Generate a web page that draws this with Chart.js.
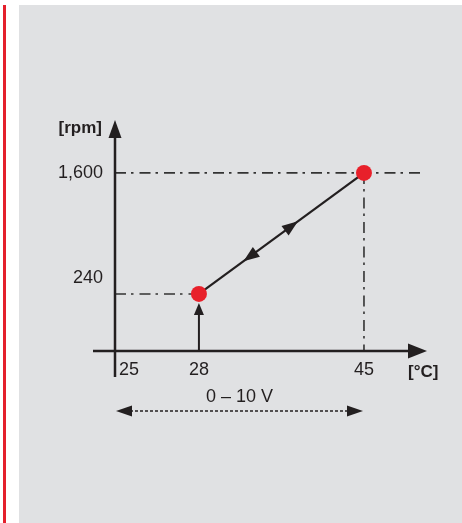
<!DOCTYPE html>
<html>
<head>
<meta charset="utf-8">
<script src="https://cdn.jsdelivr.net/npm/chart.js@4/dist/chart.umd.min.js"></script>
<style>
  body { margin: 0; background: #fff; }
  #wrap { position: relative; width: 462px; height: 523px; overflow: hidden; }
  #bar { position: absolute; left: 3px; top: 5px; width: 3px; bottom: 0; background: #e4202c; }
  #panel { position: absolute; left: 19px; top: 5px; right: 0; bottom: 0; background: #e0e1e3; }
  canvas { position: absolute; left: 0; top: 0; }
</style>
</head>
<body>
<div id="wrap">
  <div id="bar"></div>
  <div id="panel"></div>
  <canvas id="chart" width="462" height="523"></canvas>
</div>
<script>
// data
const tempTicks = [25, 28, 45];          // °C
const rpmTicks = [240, 1600];            // rpm
const curveTemp = [28, 45];
const curveRpm = [240, 1600];
const voltageLabel = '0 – 10 V';
const voltageRange = [25, 45];           // °C span of the 0-10 V signal

const ink = '#231f20';
const dashInk = '#333333';
const font = '"Liberation Sans", Arial, Helvetica, sans-serif';

// the drawing is schematic, so axes are piecewise linear between marked values
function toDecimal(breaks, v) {
  for (let i = 1; i < breaks.length; i++) {
    const [v0, d0] = breaks[i - 1], [v1, d1] = breaks[i];
    if (v <= v1 || i === breaks.length - 1) return d0 + (v - v0) / (v1 - v0) * (d1 - d0);
  }
  return 0;
}
function fromDecimal(breaks, d) {
  for (let i = 1; i < breaks.length; i++) {
    const [v0, d0] = breaks[i - 1], [v1, d1] = breaks[i];
    if (d <= d1 || i === breaks.length - 1) return v0 + (d - d0) / (d1 - d0) * (v1 - v0);
  }
  return 0;
}
class SchematicScale extends Chart.LinearScale {
  getPixelForValue(value) {
    return this.getPixelForDecimal(toDecimal(this.options.breaks, value));
  }
  getValueForPixel(pixel) {
    return fromDecimal(this.options.breaks, this.getDecimalForPixel(pixel));
  }
}
SchematicScale.id = 'schematic';
SchematicScale.defaults = Chart.LinearScale.defaults;
Chart.register(SchematicScale);

function arrowHead(ctx, x, y, angle, len, wid) {
  ctx.save();
  ctx.translate(x, y);
  ctx.rotate(angle);
  ctx.beginPath();
  ctx.moveTo(0, 0);
  ctx.lineTo(-len, -wid / 2);
  ctx.lineTo(-len, wid / 2);
  ctx.closePath();
  ctx.fill();
  ctx.restore();
}

const diagram = {
  id: 'diagram',
  beforeDatasetsDraw(chart) {
    const { ctx, scales: { x, y } } = chart;
    const x0 = x.getPixelForValue(tempTicks[0]);
    const y0 = y.getPixelForValue(0);
    ctx.save();
    ctx.strokeStyle = dashInk;
    ctx.lineWidth = 1.6;
    ctx.setLineDash([11, 5, 2.5, 6]);
    // guides to the two operating points
    const pA = [x.getPixelForValue(curveTemp[0]), y.getPixelForValue(curveRpm[0])];
    const pB = [x.getPixelForValue(curveTemp[1]), y.getPixelForValue(curveRpm[1])];
    ctx.beginPath();
    ctx.moveTo(x0, pA[1]); ctx.lineTo(pA[0], pA[1]);
    ctx.moveTo(x0, pB[1]); ctx.lineTo(chart.chartArea.right - 2, pB[1]);
    ctx.moveTo(pB[0], pB[1]); ctx.lineTo(pB[0], y0);
    ctx.stroke();
    ctx.setLineDash([]);

    // axes with arrow heads
    ctx.strokeStyle = ink;
    ctx.fillStyle = ink;
    ctx.lineWidth = 2.5;
    ctx.beginPath();
    ctx.moveTo(x0 - 22, y0); ctx.lineTo(chart.chartArea.right - 15, y0);
    ctx.moveTo(x0, y0 + 26); ctx.lineTo(x0, chart.chartArea.top + 15);
    ctx.stroke();
    arrowHead(ctx, chart.chartArea.right, y0, 0, 19, 15);
    arrowHead(ctx, x0, chart.chartArea.top, -Math.PI / 2, 18, 13);

    // 0-10 V start arrow from the axis up to the first point
    ctx.lineWidth = 2;
    ctx.beginPath();
    ctx.moveTo(pA[0], y0); ctx.lineTo(pA[0], pA[1] + 16);
    ctx.stroke();
    arrowHead(ctx, pA[0], pA[1] + 9, -Math.PI / 2, 12, 10);

    // labels
    ctx.fillStyle = ink;
    ctx.textBaseline = 'middle';
    ctx.font = '18px ' + font;
    ctx.textAlign = 'right';
    ctx.fillText('1,600', x0 - 12, y.getPixelForValue(rpmTicks[1]));
    ctx.fillText(String(rpmTicks[0]), x0 - 12, y.getPixelForValue(rpmTicks[0]) - 16);
    tempTicks.forEach((t, i) => {
      ctx.textAlign = i === 0 ? 'left' : 'center';
      const px = x.getPixelForValue(t) + (i === 0 ? 4 : 0);
      ctx.fillText(String(t), px, y0 + 19);
    });
    ctx.font = 'bold 17px ' + font;
    ctx.textAlign = 'right';
    ctx.fillText('[rpm]', x0 - 13, chart.chartArea.top + 8);
    ctx.textAlign = 'left';
    ctx.fillText('[°C]', chart.chartArea.right - 19, y0 + 21);

    // 0-10 V range
    const vL = x.getPixelForValue(voltageRange[0]);
    const vR = x.getPixelForValue(voltageRange[1]);
    const vy = y0 + 60;
    ctx.font = '18px ' + font;
    ctx.textAlign = 'center';
    ctx.fillText(voltageLabel, (vL + vR) / 2, vy - 14);
    ctx.lineWidth = 1.3;
    ctx.setLineDash([3, 2]);
    ctx.beginPath();
    ctx.moveTo(vL + 15, vy); ctx.lineTo(vR - 15, vy);
    ctx.stroke();
    ctx.setLineDash([]);
    arrowHead(ctx, vL + 1, vy, Math.PI, 16, 11);
    arrowHead(ctx, vR - 1, vy, 0, 16, 11);
    ctx.restore();
  },
  afterDatasetsDraw(chart) {
    const { ctx, scales: { x, y } } = chart;
    const ax = x.getPixelForValue(curveTemp[0]), ay = y.getPixelForValue(curveRpm[0]);
    const bx = x.getPixelForValue(curveTemp[1]), by = y.getPixelForValue(curveRpm[1]);
    const ang = Math.atan2(by - ay, bx - ax);
    ctx.save();
    ctx.fillStyle = ink;
    // rising and falling direction markers on the curve
    arrowHead(ctx, ax + (bx - ax) * 0.6, ay + (by - ay) * 0.6, ang, 16, 12);
    arrowHead(ctx, ax + (bx - ax) * 0.27, ay + (by - ay) * 0.27, ang + Math.PI, 16, 12);
    ctx.restore();
  }
};

new Chart(document.getElementById('chart'), {
  type: 'line',
  data: {
    datasets: [{
      data: curveTemp.map((t, i) => ({ x: t, y: curveRpm[i] })),
      borderColor: ink,
      borderWidth: 2.2,
      pointRadius: 8,
      pointBackgroundColor: '#e8202a',
      pointBorderWidth: 0,
      clip: false
    }]
  },
  options: {
    responsive: false,
    animation: false,
    layout: { padding: { left: 115, right: 35, top: 120, bottom: 172 } },
    scales: {
      x: {
        type: 'schematic', display: false, min: 25, max: 50,
        breaks: [[25, 0], [28, 0.269], [45, 0.798], [50, 1]]
      },
      y: {
        type: 'schematic', display: false, min: 0, max: 2100,
        breaks: [[0, 0], [240, 0.247], [1600, 0.771], [2100, 1]]
      }
    },
    plugins: { legend: { display: false }, tooltip: { enabled: false } }
  },
  plugins: [diagram]
});
</script>
</body>
</html>
